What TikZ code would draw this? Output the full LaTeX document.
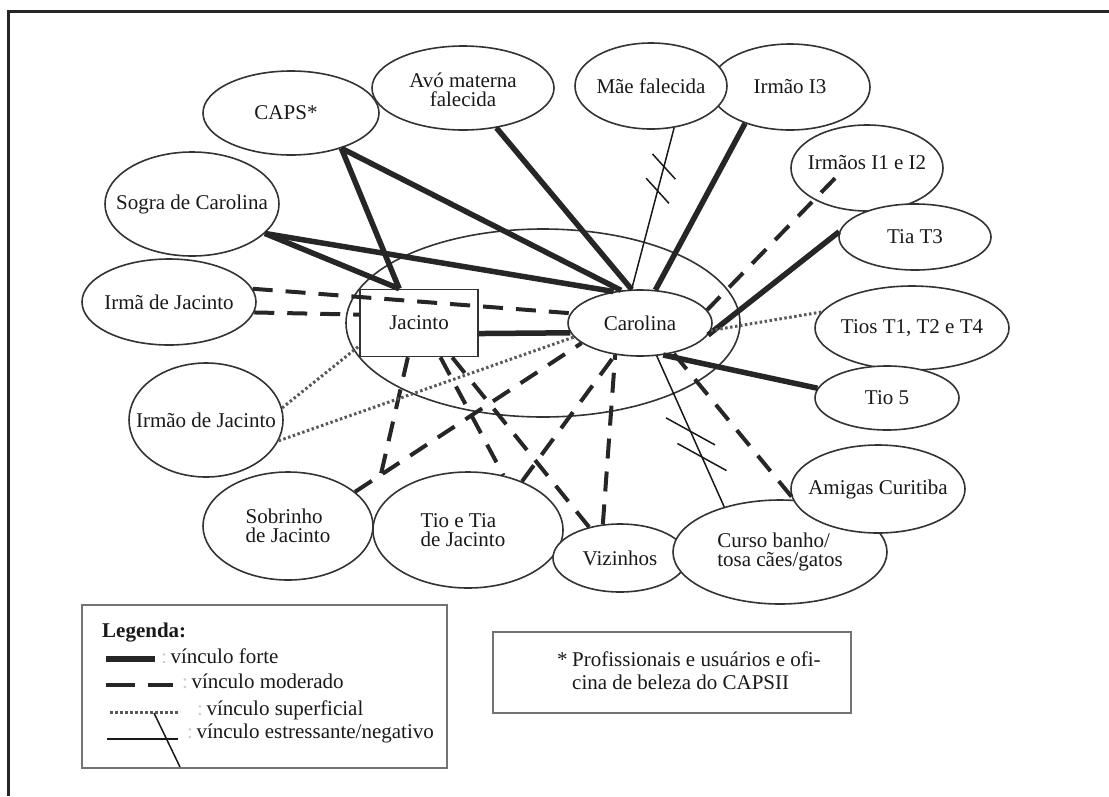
\documentclass[tikz,border=0pt]{standalone}
\usepackage{fontspec}
\setmainfont{Liberation Serif}
\usetikzlibrary{shapes.geometric,decorations.markings}
\newcommand{\legsep}{\textcolor{black!20}{:}\,}

\begin{document}
\begin{tikzpicture}[x=1pt, y=-1pt, font=\fontsize{21}{19}\selectfont,
  every node/.style={text=black!90},
  party/.style={draw=black!80, line width=1.6pt, ellipse, fill=white, inner sep=0pt},
  forte/.style={draw=black!85, line width=5.5pt},
  moderado/.style={draw=black!85, line width=4pt, dash pattern=on 20pt off 13pt},
  superficial/.style={draw=black!65, line width=3pt, dash pattern=on 2.5pt off 2.5pt},
  estresse/.style={draw=black!90, line width=1.5pt},
  hashed/.style n args={4}{estresse, postaction={decorate, decoration={markings,
      mark=at position #1 with {\draw[estresse, rotate=#3] (-#4pt,0pt) -- (#4pt,0pt);},
      mark=at position #2 with {\draw[estresse, rotate=#3] (-#4pt,0pt) -- (#4pt,0pt);}}}},
  legbox/.style={draw=black!55, line width=2pt, inner sep=0pt}]
  \useasboundingbox (0,0) rectangle (1109,796);
  \draw[line width=3pt, black!85] (8,796) -- (8,11) -- (1109,11);

  \node[ellipse, draw=black!80, line width=1.6pt, minimum width=394, minimum height=188, inner sep=0pt] (rede) at (543,323) {};

  \node[party, minimum width=182, minimum height=84, label={[align=center, yshift=-2pt]center:Avó materna\\falecida}] (avo) at (463,88) {};
  \node[party, minimum width=160, minimum height=86, label=center:Irmão I3] (irmao3) at (790,87) {};
  \node[party, minimum width=152, minimum height=86, label=center:Mãe falecida] (mae) at (651,86) {};
  \node[party, minimum width=176, minimum height=84, label={[xshift=-5pt]center:CAPS*}] (caps) at (291,113) {};
  \node[party, minimum width=152, minimum height=86, label={[yshift=5pt]center:Irmãos I1 e I2}] (irmaos) at (867,168) {};
  \node[party, minimum width=152, minimum height=66, label=center:Tia T3] (tia3) at (915,237) {};
  \node[party, minimum width=194, minimum height=84, label={center:{Tios T1, T2 e T4}}] (tios) at (912,328) {};
  \node[party, minimum width=144, minimum height=64, label=center:Tio 5] (tio5) at (887,398) {};
  \node[party, minimum width=170, minimum height=108, label={[align=left]center:Sobrinho\\de Jacinto}] (sobrinho) at (288,526) {};
  \node[party, minimum width=190, minimum height=116, label={[align=left, xshift=-5pt]center:Tio e Tia\\de Jacinto}] (tiotia) at (468,530) {};
  \node[party, minimum width=134, minimum height=68, label=center:Vizinhos] (vizinhos) at (620,558) {};
  \node[party, minimum width=214, minimum height=104, label={[align=left]center:Curso banho/\\tosa cães/gatos}] (curso) at (780,552) {};
  \node[party, minimum width=174, minimum height=88, label=center:Amigas Curitiba] (amigas) at (878,489) {};
  \node[party, minimum width=154, minimum height=114, label=center:Irmão de Jacinto] (irmao) at (206,420) {};
  \node[party, minimum width=174, minimum height=86, label=center:Irmã de Jacinto] (irma) at (169,302) {};
  \node[party, minimum width=174, minimum height=104, label=center:Sogra de Carolina] (sogra) at (192,204) {};

  \node[party, minimum width=144, minimum height=66] (carolina) at (640,323) {Carolina};
  \node[draw=black!80, line width=1.6pt, fill=white, minimum width=118, minimum height=67, inner sep=0pt] (jacinto) at (419,323) {Jacinto};
  \coordinate (sobj) at (381,474);

  \draw[forte] (caps.325) -- (jacinto.120);
  \draw[forte] (caps.325) -- (carolina.120);
  \draw[forte] (sogra.338) -- (jacinto.120);
  \draw[forte] (sogra.338) -- (carolina.130);
  \draw[forte] (avo.310) -- (carolina.104);
  \draw[forte] (irmao3.219) -- (carolina.65);
  \draw[forte] (tia3.176) -- (carolina.350);
  \draw[forte] (tio5.172) -- (carolina.306);
  \draw[forte] (jacinto.350) -- (carolina.188);

  \draw[moderado] (irma.9) -- (carolina.172);
  \draw[moderado] (irma.353) -- (jacinto.172);
  \draw[moderado, shorten <=-30pt] (irmaos.211) -- (carolina.11);
  \draw[moderado] (amigas.185) -- (carolina.318);
  \draw[moderado] (vizinhos.117) -- (carolina.232);
  \draw[moderado] (tiotia.42) -- (carolina.232);
  \draw[moderado] (vizinhos.135) -- (jacinto.314);
  \draw[moderado] (jacinto.302) -- (tiotia.57);
  \draw[moderado] (jacinto.252) -- (sobj);
  \draw[moderado] (sobrinho.27) -- (carolina.199);

  \draw[superficial] (irmao.9) -- (jacinto.201);
  \draw[superficial] (irmao.344) -- (carolina.192);
  \draw[superficial] (tios.170) -- (carolina.354);

  \draw[hashed={0.24}{0.39}{57}{17}] (mae.299) -- (carolina.104);
  \draw[hashed={0.33}{0.50}{37}{28}] (curso.141) -- (carolina.297);

  \node[legbox, minimum width=365, minimum height=163] (legenda) at (264.5,686.5) {};
  \node[anchor=base west, inner sep=0pt] (legtit) at (102,637) {\bfseries Legenda:};
  \draw[forte, line width=6pt] (106,659) -- (155,659);
  \node[anchor=base west, inner sep=0pt] (legforte) at (161,663) {\legsep vínculo forte};
  \draw[moderado, dash pattern=on 29pt off 13pt] (106,685) -- (173,685);
  \node[anchor=base west, inner sep=0pt] (legmod) at (182,688) {\legsep vínculo moderado};
  \draw[superficial] (110,712) -- (180,712);
  \node[anchor=base west, inner sep=0pt] (legsup) at (197,715) {\legsep vínculo superficial};
  \draw[estresse, line width=2.5pt] (107,739) -- (178,739);
  \draw[estresse] (154,713) -- (180,767);
  \node[anchor=base west, inner sep=0pt] (legest) at (187,738) {\legsep vínculo estressante/negativo};

  \node[legbox, minimum width=358, minimum height=81] (nota) at (672,672.5) {};
  \node[anchor=north west, align=left, inner sep=0pt, font=\fontsize{21}{23}\selectfont] (notatxt) at (557,652)
    {*\hspace{4.5pt}Profissionais e usuários e ofi-\\\hspace*{15pt}cina de beleza do CAPSII};
\end{tikzpicture}
\end{document}
